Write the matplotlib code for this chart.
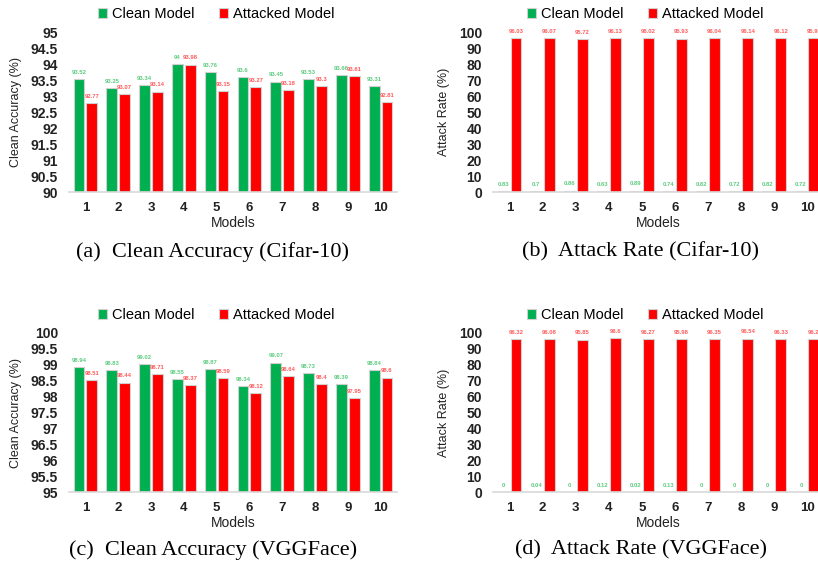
import numpy as np
import matplotlib.pyplot as plt

models = [str(i) for i in range(1, 11)]

cifar_acc_clean = [93.52, 93.25, 93.34, 94.0, 93.76, 93.6, 93.45, 93.53, 93.66, 93.31]
cifar_acc_attacked = [92.77, 93.07, 93.14, 93.98, 93.15, 93.27, 93.18, 93.3, 93.61, 92.81]
cifar_rate_clean = [0.83, 0.7, 0.86, 0.63, 0.89, 0.74, 0.82, 0.72, 0.82, 0.72]
cifar_rate_attacked = [96.03, 96.07, 95.72, 96.13, 96.02, 95.93, 96.04, 96.14, 96.12, 95.95]

vgg_acc_clean = [98.94, 98.83, 99.02, 98.55, 98.87, 98.34, 99.07, 98.73, 98.39, 98.84]
vgg_acc_attacked = [98.51, 98.44, 98.71, 98.37, 98.59, 98.12, 98.64, 98.4, 97.95, 98.6]
vgg_rate_clean = [0, 0.04, 0, 0.12, 0.02, 0.13, 0, 0, 0, 0]
vgg_rate_attacked = [96.32, 96.08, 95.85, 96.6, 96.27, 95.98, 96.35, 96.54, 96.33, 96.2]

acc_ticks_cifar = np.arange(90, 95.01, 0.5)
acc_ticks_vgg = np.arange(95, 100.01, 0.5)
rate_ticks = np.arange(0, 101, 10)

captions = ["(a)  Clean Accuracy (Cifar-10)", "(b)  Attack Rate (Cifar-10)",
            "(c)  Clean Accuracy (VGGFace)", "(d)  Attack Rate (VGGFace)"]

GREEN = "#00B050"
RED = "#FF0000"
W, H = 818, 567

plt.rcParams['font.family'] = ['Liberation Sans', 'DejaVu Sans']

fig = plt.figure(figsize=(W / 100, H / 100), dpi=100)


def fmt(v):
    return f"{v:g}"


def panel(rect, clean, attacked, ticks, ylabel, leg_center, leg_y):
    ax = fig.add_axes(rect)
    x = np.arange(len(models))
    bw = 0.33
    b1 = ax.bar(x - 0.195, clean, bw, color=GREEN, edgecolor="#d0d0d0", linewidth=0.8,
                label="Clean Model")
    b2 = ax.bar(x + 0.195, attacked, bw, color=RED, edgecolor="#d0d0d0", linewidth=0.8,
                label="Attacked Model")
    ax.bar_label(b1, labels=[fmt(v) for v in clean], padding=3, fontsize=4.2,
                 color="#5ccc7e", fontweight="bold")
    ax.bar_label(b2, labels=[fmt(v) for v in attacked], padding=3, fontsize=4.2,
                 color="#ff5a5a", fontweight="bold")
    ax.set_ylim(ticks[0], ticks[-1])
    ax.set_yticks(ticks)
    ax.set_yticklabels([fmt(t) for t in ticks], fontsize=10, fontweight="bold", color="#222222")
    ax.set_xlim(-0.5, len(models) - 0.5)
    ax.set_xticks(x)
    ax.set_xticklabels(models, fontsize=9.5, fontweight="bold", color="#222222")
    ax.tick_params(length=0, axis="y", pad=8)
    ax.tick_params(length=0, axis="x", pad=7)
    for s in ["top", "right", "left"]:
        ax.spines[s].set_visible(False)
    ax.spines["bottom"].set_color("#d9d9d9")
    ax.spines["bottom"].set_linewidth(1.2)
    ax.set_ylabel(ylabel, fontsize=9, color="#222222", labelpad=6)
    ax.set_xlabel("Models", fontsize=10, color="#222222", labelpad=1.5)
    fig.legend(handles=[b1, b2], loc="center", bbox_to_anchor=(leg_center / W, 1 - leg_y / H),
               ncol=2, frameon=False, fontsize=10.5, handlelength=0.65, handleheight=0.65,
               handletextpad=0.3, columnspacing=1.7, borderpad=0)
    return ax


top = (1 - 192 / H, (192 - 32) / H)
bot = (1 - 492 / H, (492 - 333) / H)

panel([69 / W, top[0], 328 / W, top[1]], cifar_acc_clean, cifar_acc_attacked,
      acc_ticks_cifar, "Clean Accuracy (%)", 216, 14)
panel([493 / W, top[0], 331 / W, top[1]], cifar_rate_clean, cifar_rate_attacked,
      rate_ticks, "Attack Rate (%)", 645, 14)
panel([69 / W, bot[0], 328 / W, bot[1]], vgg_acc_clean, vgg_acc_attacked,
      acc_ticks_vgg, "Clean Accuracy (%)", 216, 315)
panel([493 / W, bot[0], 331 / W, bot[1]], vgg_rate_clean, vgg_rate_attacked,
      rate_ticks, "Attack Rate (%)", 645, 315)

cap_pos = [(213, 252), (641, 252), (213, 550), (641, 550)]
for (cx, cy), txt in zip(cap_pos, captions):
    fig.text(cx / W, 1 - cy / H, txt, ha="center", va="center", fontsize=16,
             family=["Liberation Serif", "DejaVu Serif"])

fig.savefig("out.png", dpi=100)
